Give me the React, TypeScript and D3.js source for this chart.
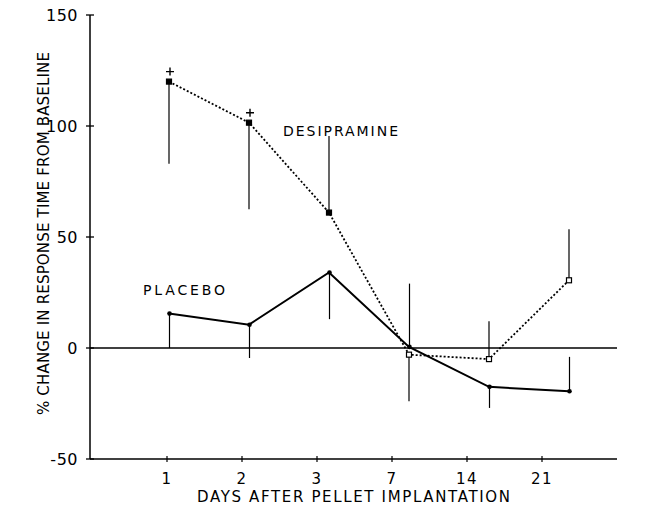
import * as d3 from "d3";
import { useEffect, useRef } from "react";

const days = ["1", "2", "3", "7", "14", "21"];
const desipramine = [120, 101.5, 61, -3, -5, 30.5];
const desipramineErr = [83, 62.5, 95.5, -24, 12, 53.5];
const placebo = [15.5, 10.5, 34, 0.5, -17.5, -19.5];
const placeboErr = [0, -4.5, 13, 29, -27, -4];
const significant = [124.5, 106, null, null, null, null];
const yTicks = [-50, 0, 50, 100, 150];

const W = 655;
const H = 507;

export default function App() {
  const ref = useRef<SVGSVGElement>(null);

  useEffect(() => {
    if (!ref.current) return;
    const svg = d3.select(ref.current);
    svg.selectAll("*").remove();

    const font = "'DejaVu Sans', sans-serif";
    const y = d3.scaleLinear().domain([-50, 150]).range([459, 15]);
    // tick labels and the plotted points do not share spacing in the original
    const xTick = d3.scaleLinear().domain([0, 7]).range([92, 617]);
    const xData = d3.scaleLinear().domain([0, 7]).range([89, 649]);
    const idx = days.map((_, i) => i + 1);

    // axes
    svg.append("line").attr("x1", 90).attr("x2", 90).attr("y1", y(150)).attr("y2", y(-50))
      .attr("stroke", "#000").attr("stroke-width", 1.5);
    svg.append("line").attr("x1", 90).attr("x2", xTick(7)).attr("y1", y(-50)).attr("y2", y(-50))
      .attr("stroke", "#000").attr("stroke-width", 1.5);
    svg.append("line").attr("x1", 90).attr("x2", xTick(7)).attr("y1", y(0)).attr("y2", y(0))
      .attr("stroke", "#000").attr("stroke-width", 1.3);

    const yt = svg.append("g");
    yTicks.forEach((t) => {
      yt.append("line").attr("x1", 86).attr("x2", 94).attr("y1", y(t)).attr("y2", y(t))
        .attr("stroke", "#000").attr("stroke-width", 1.3);
      yt.append("text").attr("x", 78).attr("y", y(t) + 6).attr("text-anchor", "end")
        .attr("font-family", font).attr("font-size", 16).attr("letter-spacing", 0.5)
        .text(t);
    });

    const xt = svg.append("g");
    idx.forEach((i, k) => {
      xt.append("line").attr("x1", xTick(i)).attr("x2", xTick(i)).attr("y1", y(-50) - 3).attr("y2", y(-50) + 3)
        .attr("stroke", "#000").attr("stroke-width", 1.2);
      xt.append("text").attr("x", xTick(i)).attr("y", 484).attr("text-anchor", "middle")
        .attr("font-family", font).attr("font-size", 15).attr("letter-spacing", 1.5)
        .text(days[k]);
    });

    svg.append("text").attr("x", 197).attr("y", 502)
      .attr("font-family", font).attr("font-size", 15)
      .attr("textLength", 313).attr("lengthAdjust", "spacing")
      .text("DAYS AFTER PELLET IMPLANTATION");

    svg.append("text").attr("transform", "translate(49,415) rotate(-90)")
      .attr("font-family", font).attr("font-size", 15)
      .attr("textLength", 363).attr("lengthAdjust", "spacing")
      .text("% CHANGE IN RESPONSE TIME FROM BASELINE");

    // error bars
    idx.forEach((i, k) => {
      svg.append("line").attr("x1", xData(i)).attr("x2", xData(i))
        .attr("y1", y(desipramine[k])).attr("y2", y(desipramineErr[k]))
        .attr("stroke", "#000").attr("stroke-width", 1.2);
      svg.append("line").attr("x1", xData(i) + 0.5).attr("x2", xData(i) + 0.5)
        .attr("y1", y(placebo[k])).attr("y2", y(placeboErr[k]))
        .attr("stroke", "#000").attr("stroke-width", 1.2);
    });

    const line = d3.line<number>().x((_, k) => xData(idx[k]));

    svg.append("path").datum(desipramine)
      .attr("d", line.y((d) => y(d)) as any)
      .attr("fill", "none").attr("stroke", "#000").attr("stroke-width", 1.8)
      .attr("stroke-dasharray", "2,2");

    svg.append("path").datum(placebo)
      .attr("d", line.y((d) => y(d)) as any)
      .attr("fill", "none").attr("stroke", "#000").attr("stroke-width", 2);

    // markers
    desipramine.forEach((v, k) => {
      svg.append("rect").attr("x", xData(idx[k]) - 2.5).attr("y", y(v) - 2.5)
        .attr("width", 5).attr("height", 5)
        .attr("fill", k < 3 ? "#000" : "#fff").attr("stroke", "#000").attr("stroke-width", 1.2);
    });
    placebo.forEach((v, k) => {
      svg.append("circle").attr("cx", xData(idx[k]) + 0.5).attr("cy", y(v)).attr("r", 2.3).attr("fill", "#000");
    });

    significant.forEach((v, k) => {
      if (v === null) return;
      const cx = xData(idx[k]) + 1;
      const cy = y(v);
      svg.append("path").attr("d", `M${cx - 4},${cy}H${cx + 4}M${cx},${cy - 4}V${cy + 4}`)
        .attr("stroke", "#000").attr("stroke-width", 1.4);
    });

    svg.append("text").attr("x", 283).attr("y", 136)
      .attr("font-family", font).attr("font-size", 14)
      .attr("textLength", 115).attr("lengthAdjust", "spacing").text("DESIPRAMINE");
    svg.append("text").attr("x", 143).attr("y", 295)
      .attr("font-family", font).attr("font-size", 14)
      .attr("textLength", 82).attr("lengthAdjust", "spacing").text("PLACEBO");
  }, []);

  return (
    <svg ref={ref} width={W} height={H}
      style={{ position: "absolute", left: 0, top: 0, background: "#fff" }} />
  );
}
